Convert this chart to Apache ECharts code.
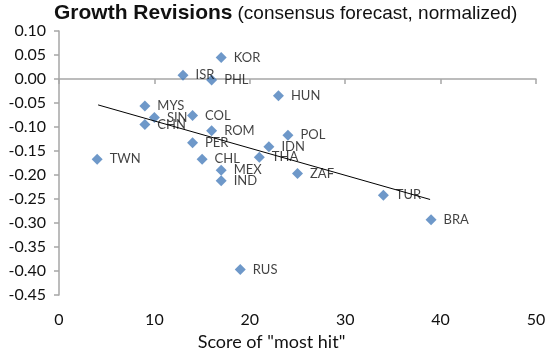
<!DOCTYPE html>
<html><head><meta charset="utf-8">
<script src="https://cdn.jsdelivr.net/npm/echarts@6/dist/echarts.min.js"></script>
<style>html,body{margin:0;padding:0;background:#fff}#c{width:554px;height:356px}</style>
</head><body><div id="c"></div>
<script>
const countries = ['KOR','ISR','PHL','HUN','MYS','SIN','CHN','COL','ROM','POL','PER','IDN','TWN','CHL','THA','MEX','IND','ZAF','TUR','BRA','RUS'];
const scoreMostHit = [17,13,16,23,9,10,9,14,16,24,14,22,4,15,21,17,17,25,34,39,19];
const growthRevision = [0.045,0.008,-0.002,-0.035,-0.056,-0.080,-0.095,-0.076,-0.108,-0.117,-0.133,-0.141,-0.167,-0.167,-0.163,-0.190,-0.212,-0.197,-0.242,-0.293,-0.397];
const trendX = [4.1, 38.9];
const trendY = [-0.054, -0.251];
const xTicks = [0,10,20,30,40,50];
const yTicks = [0.10,0.05,0.00,-0.05,-0.10,-0.15,-0.20,-0.25,-0.30,-0.35,-0.40,-0.45];

const pts = countries.map((c,i)=>({name:c, value:[scoreMostHit[i], growthRevision[i]]}));
const trend = trendX.map((x,i)=>[x, trendY[i]]);
const font = 'Lato, "Open Sans", sans-serif';
const chart = echarts.init(document.getElementById('c'), null, {renderer:'canvas'});
chart.setOption({
  animation:false,
  backgroundColor:'#fff',
  title:{
    left:54, top:3, padding:0,
    text:'{a|Growth Revisions} {b|(consensus forecast, normalized)}',
    textStyle:{fontWeight:'normal',rich:{
      a:{fontFamily:'"Liberation Sans", Arial, sans-serif',fontWeight:'bold',fontSize:21,color:'#111'},
      b:{fontFamily:'"Liberation Sans", Arial, sans-serif',fontWeight:'normal',fontSize:19,color:'#111'}
    }}
  },
  grid:{left:59,right:18,top:31,bottom:60},
  xAxis:[{
    type:'value', min:xTicks[0], max:xTicks[xTicks.length-1], interval:10,
    position:'bottom',
    axisLine:{show:false}, axisTick:{show:false}, splitLine:{show:false},
    axisLabel:{fontFamily:font,fontSize:16,color:'#111',margin:17},
    name:'Score of "most hit"', nameLocation:'middle', nameGap:38,
    nameTextStyle:{fontFamily:font,fontSize:18,color:'#111',padding:[0,52,0,0]}
  },{
    type:'value', min:xTicks[0], max:xTicks[xTicks.length-1], interval:10,
    position:'top', show:true,
    axisLine:{show:true,onZero:true,onZeroAxisIndex:0,lineStyle:{color:'#a6a6a6',width:1.5}},
    axisTick:{show:true,inside:true,length:5,lineStyle:{color:'#a6a6a6',width:1.5}},
    axisLabel:{show:false}, splitLine:{show:false}
  }],
  yAxis:{
    type:'value', min:yTicks[yTicks.length-1], max:yTicks[0], interval:0.05,
    axisLine:{show:true,lineStyle:{color:'#a6a6a6',width:1.5}},
    axisTick:{show:true,length:5,lineStyle:{color:'#a6a6a6',width:1.5}},
    splitLine:{show:false},
    axisLabel:{fontFamily:font,fontSize:16,color:'#111',margin:13,formatter:v=>v.toFixed(2)}
  },
  series:[{
    type:'scatter', xAxisIndex:0, yAxisIndex:0,
    symbol:'diamond', symbolSize:11,
    itemStyle:{color:'#4a7ebb'},
    data:pts,
    label:{show:true,position:'right',distance:7,formatter:'{b}',fontFamily:font,fontSize:13,color:'#111'}
  },{
    type:'line', xAxisIndex:1, yAxisIndex:0,
    data:trend, showSymbol:false, symbol:'none',
    lineStyle:{color:'#000',width:1}, z:3
  }]
});
</script></body></html>
